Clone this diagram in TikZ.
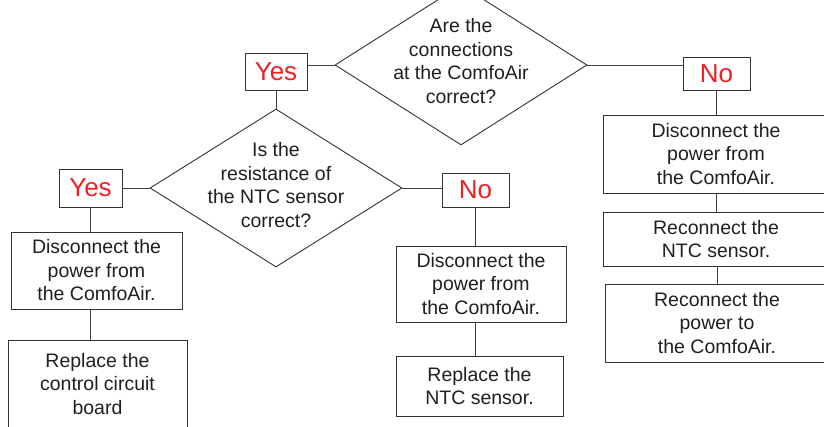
\documentclass[tikz,border=0pt]{standalone}
\usepackage{fontspec}
\setmainfont{Liberation Sans}
\usetikzlibrary{shapes.geometric,positioning}
\definecolor{ansred}{RGB}{237,32,36}

\begin{document}
\begin{tikzpicture}[x=1pt,y=-1pt,
  every node/.style={font=\fontsize{19.5}{23.5}\selectfont,text=black!88},
  box/.style={draw=black!80,line width=.9pt,align=center,inner sep=0pt},
  ask/.style={diamond,draw=black!80,line width=.9pt,inner sep=0pt,
    minimum width=252pt,minimum height=160pt},
  ans/.style={box,text=ansred,font=\fontsize{26}{30}\selectfont},
  link/.style={draw=black!75,line width=.9pt}]
\useasboundingbox (0,0) rectangle (824,426);
% questions
\node[ask,label={[align=center,yshift=4pt]center:{Are the\\connections\\at the ComfoAir\\correct?}}]
  (q1) at (461,65) {};
\node[ask,minimum height=158pt,label={[align=center,yshift=3pt]center:{Is the\\resistance of\\the NTC sensor\\correct?}}]
  (q2) at (276,188) {};
% answers
\node[ans,minimum width=62pt,minimum height=37pt] (yes1) at (276,71.5) {Yes};
\node[ans,minimum width=67pt,minimum height=33pt] (no1) at (716.5,73.5) {No};
\node[ans,minimum width=63pt,minimum height=38pt] (yes2) at (90.5,188) {Yes};
\node[ans,minimum width=67pt,minimum height=34pt] (no2) at (475.5,190) {No};
% actions
\node[box,minimum width=171pt,minimum height=77pt] (a1) at (96.5,270.5)
  {Disconnect the\\power from\\the ComfoAir.};
\node[box,minimum width=179pt,minimum height=88pt] (a2) at (97.5,384)
  {Replace the\\control circuit\\board};
\node[box,minimum width=170pt,minimum height=76pt] (b1) at (481,284)
  {Disconnect the\\power from\\the ComfoAir.};
\node[box,minimum width=167pt,minimum height=60pt] (b2) at (479.5,386)
  {Replace the\\NTC sensor.};
\node[box,minimum width=226pt,minimum height=78pt] (c1) at (716,154)
  {Disconnect the\\power from\\the ComfoAir.};
\node[box,minimum width=226pt,minimum height=54pt] (c2) at (716,239)
  {Reconnect the\\NTC sensor.};
\node[box,minimum width=224pt,minimum height=78pt] (c3) at (717,323)
  {Reconnect the\\power to\\the ComfoAir.};
% connectors
\draw[link] (q1.west) -- (q1.west -| yes1.east);
\draw[link] (q1.east) -- (q1.east -| no1.west);
\draw[link] (yes1.south) -- (q2.north);
\draw[link] (q2.west) -- (yes2.east);
\draw[link] (q2.east) -- (q2.east -| no2.west);
\draw[link] (yes2.south) -- (yes2.south |- a1.north);
\draw[link] (a1.south -| yes2.south) -- (a2.north -| yes2.south);
\draw[link] (no2.south) -- (no2.south |- b1.north);
\draw[link] (b1.south -| no2.south) -- (b2.north -| no2.south);
\draw[link] (no1.south) -- (no1.south |- c1.north);
\draw[link] (c1.south) -- (c2.north);
\draw[link] (c2.south -| c3.north) -- (c3.north);
\end{tikzpicture}
\end{document}
